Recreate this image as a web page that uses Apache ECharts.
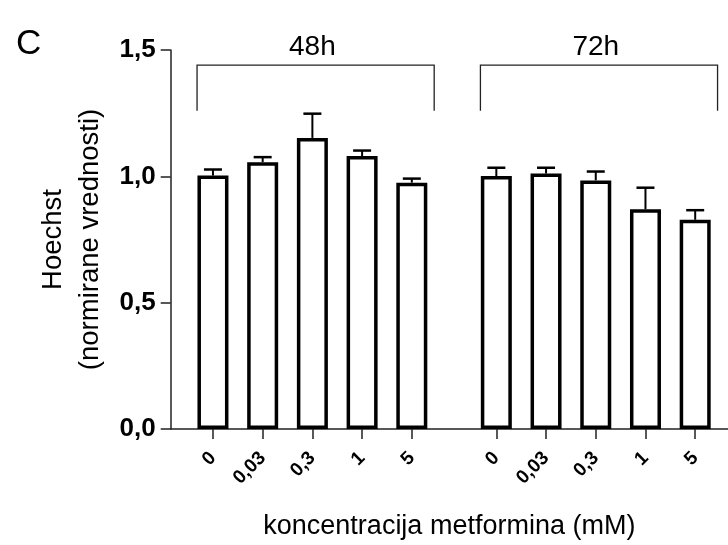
<!DOCTYPE html>
<html>
<head>
<meta charset="utf-8">
<script src="https://cdn.jsdelivr.net/npm/echarts@6/dist/echarts.min.js"></script>
<style>
html, body { margin: 0; padding: 0; background: #fff; }
#main { width: 728px; height: 545px; }
</style>
</head>
<body>
<div id="main"></div>
<script>
// podaci
var concentrations = ['0', '0,03', '0,3', '1', '5'];
var groups = ['48h', '72h'];
var mean48 = [1.003, 1.056, 1.152, 1.080, 0.975];
var sem48 = [0.024, 0.020, 0.096, 0.022, 0.016];
var mean72 = [1.001, 1.011, 0.984, 0.870, 0.828];
var sem72 = [0.033, 0.023, 0.035, 0.085, 0.038];
var yMin = 0, yMax = 1.5, yStep = 0.5;

// raspored (u jedinicama jednog stupca)
var firstPos = 0.85, groupStride = 5.7, xMax = 11.21;
var bracketTop = 1.44, bracketLeg = 1.26;
var font = "'Liberation Sans', Arial, sans-serif";

var means = [mean48, mean72], sems = [sem48, sem72];
var positions = [], barData = [], errData = [], bracketData = [];
for (var g = 0; g < groups.length; g++) {
    for (var i = 0; i < concentrations.length; i++) {
        var p = firstPos + g * groupStride + i;
        positions.push(p);
        barData.push([p, means[g][i]]);
        errData.push([p, means[g][i], sems[g][i]]);
    }
    var p0 = firstPos + g * groupStride;
    bracketData.push([p0 - 0.32, p0 + concentrations.length - 1 + 0.45, p0 + 2, g]);
}

function labelFor(v) {
    for (var k = 0; k < positions.length; k++) {
        if (Math.abs(positions[k] - v) < 0.01) return concentrations[k % concentrations.length];
    }
    return '';
}

var chart = echarts.init(document.getElementById('main'));
var option = {
    animation: false,
    backgroundColor: '#fff',
    title: {
        text: 'C', left: 11, top: 22,
        textStyle: { fontFamily: font, fontSize: 35, fontWeight: 'normal', color: '#000' }
    },
    grid: { left: 170.7, top: 50, right: 0, bottom: 114 },
    xAxis: {
        type: 'value', min: 0, max: xMax,
        name: 'koncentracija metformina (mM)',
        nameLocation: 'middle', nameGap: 84,
        nameTextStyle: { fontFamily: font, fontSize: 27, color: '#000' },
        axisLine: { show: true, lineStyle: { color: '#222', width: 1.5 } },
        axisTick: { show: true, length: 10, customValues: positions, lineStyle: { color: '#222', width: 1.5 } },
        axisLabel: {
            customValues: positions, rotate: 45, margin: 26,
            fontFamily: font, fontSize: 19, fontWeight: 'bold', color: '#000',
            formatter: labelFor
        },
        splitLine: { show: false }
    },
    yAxis: {
        type: 'value', min: yMin, max: yMax, interval: yStep,
        name: 'Hoechst\n(normirane vrednosti)',
        nameLocation: 'middle', nameGap: 58,
        nameTextStyle: { fontFamily: font, fontSize: 27.5, color: '#000', lineHeight: 37 },
        axisLine: { show: true, lineStyle: { color: '#222', width: 1.5 } },
        axisTick: { show: true, length: 10, lineStyle: { color: '#222', width: 1.5 } },
        axisLabel: {
            margin: 15, fontFamily: font, fontSize: 26, fontWeight: 'bold', color: '#000',
            formatter: function (v) { return v.toFixed(1).replace('.', ','); }
        },
        splitLine: { show: false }
    },
    series: [
        {
            type: 'bar', data: barData, barWidth: 31,
            itemStyle: { color: '#fff', borderColor: '#000', borderWidth: 3.5 }
        },
        {
            type: 'custom', data: errData, encode: { x: 0, y: 1 }, z: 1,
            renderItem: function (params, api) {
                var x = api.value(0), v = api.value(1), e = api.value(2);
                var a = api.coord([x, v]), b = api.coord([x, v + e]);
                return {
                    type: 'group', children: [
                        { type: 'line', shape: { x1: a[0], y1: a[1], x2: b[0], y2: b[1] }, style: { stroke: '#000', lineWidth: 2 } },
                        { type: 'line', shape: { x1: b[0] - 9, y1: b[1], x2: b[0] + 9, y2: b[1] }, style: { stroke: '#000', lineWidth: 2.5 } }
                    ]
                };
            }
        },
        {
            type: 'custom', data: bracketData, encode: { x: [0, 1] },
            renderItem: function (params, api) {
                var l = api.coord([api.value(0), bracketLeg]);
                var lt = api.coord([api.value(0), bracketTop]);
                var rt = api.coord([api.value(1), bracketTop]);
                var r = api.coord([api.value(1), bracketLeg]);
                var c = api.coord([api.value(2), bracketTop]);
                return {
                    type: 'group', children: [
                        { type: 'polyline', shape: { points: [l, lt, rt, r] }, style: { stroke: '#222', lineWidth: 1.3, fill: null } },
                        {
                            type: 'text', style: {
                                text: groups[api.value(3)], x: c[0], y: c[1] - 4,
                                textAlign: 'center', textVerticalAlign: 'bottom',
                                align: 'center', verticalAlign: 'bottom',
                                fontFamily: font, fontSize: 28, fill: '#000'
                            }
                        }
                    ]
                };
            }
        }
    ]
};
chart.setOption(option);
</script>
</body>
</html>
